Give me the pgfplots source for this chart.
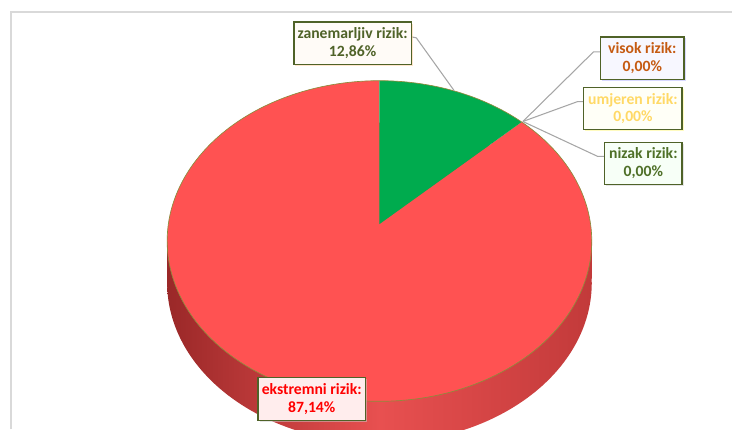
\documentclass[border=0pt]{standalone}
\usepackage{pgfplots}
\pgfplotsset{compat=1.18}
\usepackage{pgfplotstable}
\usepackage{fontspec}
\setmainfont{Carlito}
\usetikzlibrary{shadows}

\definecolor{topred}{HTML}{FF5252}
\definecolor{pgreen}{HTML}{00AB4E}
\definecolor{sideL}{HTML}{9A2828}
\definecolor{sideM}{HTML}{E85050}
\definecolor{sideR}{HTML}{C23A3A}
\definecolor{rim}{HTML}{8C8C3C}
\definecolor{boxborder}{HTML}{4F6228}
\definecolor{leader}{HTML}{A6A6A6}
\definecolor{frame}{HTML}{D9D9D9}
\definecolor{tzan}{HTML}{4F6228}
\definecolor{tvis}{HTML}{C55A11}
\definecolor{tumj}{HTML}{FFD966}
\definecolor{tniz}{HTML}{4F7028}
\definecolor{tred}{HTML}{FF0000}

\tikzset{lbl/.style={draw=boxborder, line width=1.1pt, align=center, font=\fontsize{11.8}{13.5}\selectfont\bfseries, inner sep=0pt, anchor=center}}

\pgfplotstableread{
label value
zanemarljiv 12.86
nizak 0
umjeren 0
visok 0
ekstremni 87.14
}\pietable

\begin{document}
\pgfplotstablegetelem{0}{value}\of\pietable
\pgfmathsetmacro{\angZ}{360*\pgfplotsretval/100}
\begin{tikzpicture}
\begin{axis}[
  width=549pt, height=323.25pt, scale only axis,
  xmin=0, xmax=732, ymin=0, ymax=431, y dir=reverse,
  hide axis, clip=true,
]
% side of the pie (band below the top face)
\addplot[draw=none, left color=sideL, right color=sideR, middle color=sideM]
  coordinates {(164.9,242) (591.1,242) (591.1,280) (164.9,280)} -- cycle;
\addplot[draw=none, left color=sideL, right color=sideR, middle color=sideM,
  domain=0:360, samples=240, variable=\t]
  ({378+212*sin(\t)/(1+0.1056*cos(\t))}, {267-159.2*cos(\t)/(1+0.1056*cos(\t))}) -- cycle;
% top face: sectors
\addplot[draw=none, fill=topred, domain=\angZ:360, samples=160, variable=\t]
  ({378+212*sin(\t)/(1+0.1056*cos(\t))}, {225-159.2*cos(\t)/(1+0.1056*cos(\t))}) -- (axis cs:378,225) -- cycle;
\addplot[draw=none, fill=pgreen, domain=0:\angZ, samples=40, variable=\t]
  ({378+212*sin(\t)/(1+0.1056*cos(\t))}, {225-159.2*cos(\t)/(1+0.1056*cos(\t))}) -- (axis cs:378,225) -- cycle;
\addplot[draw=rim, line width=0.5pt, domain=0:360, samples=200, variable=\t]
  ({378+212*sin(\t)/(1+0.1056*cos(\t))}, {225-159.2*cos(\t)/(1+0.1056*cos(\t))});

% frame
\draw[frame, line width=1.2pt] (axis cs:8,431) -- (axis cs:8,12) -- (axis cs:732,12);

% leader lines
\draw[leader, line width=0.8pt] (axis cs:410,37) -- (axis cs:415,38) -- (axis cs:453,91);
\draw[leader, line width=0.8pt] (axis cs:522,122) -- (axis cs:593,52) -- (axis cs:600,52);
\draw[leader, line width=0.8pt] (axis cs:522,122) -- (axis cs:577,102) -- (axis cs:583,102);
\draw[leader, line width=0.8pt] (axis cs:522,122) -- (axis cs:597,157) -- (axis cs:604,157);

% labels
\node[lbl, fill=white!97!orange, text=tzan, minimum width=88.5pt, minimum height=32.25pt,
  drop shadow={shadow xshift=1.2pt, shadow yshift=-1.2pt, fill=orange!40, opacity=0.5}]
  at (axis cs:351,43.5) {zanemarljiv rizik:\\12,86\%};
\node[lbl, fill=white!97!blue, text=tvis, minimum width=63pt, minimum height=32.25pt,
  drop shadow={shadow xshift=1.2pt, shadow yshift=-1.2pt, fill=blue!30, opacity=0.5}]
  at (axis cs:642,58.5) {visok rizik:\\0,00\%};
\node[lbl, fill=white!97!yellow, text=tumj, minimum width=74.25pt, minimum height=31.5pt,
  drop shadow={shadow xshift=1.2pt, shadow yshift=-1.2pt, fill=yellow!50, opacity=0.5}]
  at (axis cs:632.5,109) {umjeren rizik:\\0,00\%};
\node[lbl, fill=white!97!green, text=tniz, minimum width=58.5pt, minimum height=31.5pt,
  drop shadow={shadow xshift=1.2pt, shadow yshift=-1.2pt, fill=gray!40, opacity=0.5}]
  at (axis cs:643,164) {nizak rizik:\\0,00\%};
\node[lbl, fill=white!93!red, text=tred, minimum width=81pt, minimum height=32.25pt,
  drop shadow={shadow xshift=1.2pt, shadow yshift=-1.2pt, fill=gray!40, opacity=0.5}]
  at (axis cs:310,400.5) {ekstremni rizik:\\87,14\%};
\end{axis}
\pgfresetboundingbox
\path (current axis.south west) rectangle (current axis.north east);
\end{tikzpicture}
\end{document}
